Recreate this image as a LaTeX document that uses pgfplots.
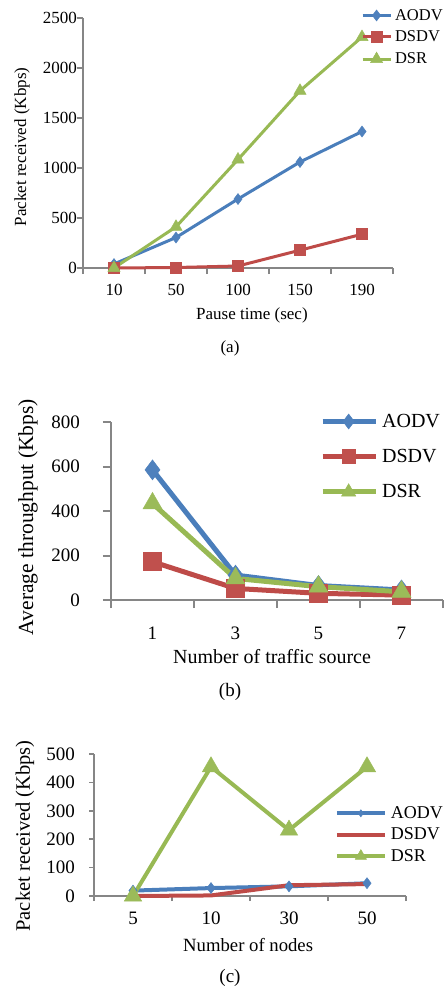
\documentclass[border=0pt]{standalone}
\usepackage{fontspec}
\setmainfont{Liberation Serif}
\usepackage{pgfplots}
\pgfplotsset{compat=1.18}

\definecolor{lnA}{HTML}{4A7EBB}
\definecolor{lnD}{HTML}{BE4B48}
\definecolor{lnS}{HTML}{98B954}
\definecolor{mkA}{HTML}{4F81BD}
\definecolor{mkD}{HTML}{C0504D}
\definecolor{mkS}{HTML}{9BBB59}
\definecolor{axgray}{HTML}{868686}

\pgfplotsset{
  excel/.style={
    scale only axis, anchor=south west, clip=false,
    axis x line*=bottom, axis y line*=left,
    axis line style={draw=axgray, line width=1.3pt},
    tick align=outside, major tick length=0pt, minor tick length=6pt,
    tick style={draw=axgray, line width=1.3pt},
    /pgf/number format/assume math mode=true,
    /pgf/number format/1000 sep={},
    scaled y ticks=false,
    xticklabel style={anchor=north, inner sep=0pt},
    yticklabel style={anchor=east, inner sep=0pt},
    xlabel style={anchor=center},
    ylabel style={anchor=center},
    legend style={draw=none, fill=none, anchor=north west,
      inner sep=0pt, outer sep=0pt,
      nodes={inner sep=0pt, outer sep=0pt}},
    legend cell align=left,
  },
}

\begin{document}
\begin{tikzpicture}[x=1pt,y=1pt]
\useasboundingbox (0,0) rectangle (444,-990);

% ---------- (a) ----------
\begin{axis}[excel,
  at={(83pt,-268pt)}, width=310pt, height=250pt,
  xmin=-0.5, xmax=4.5, ymin=0, ymax=2500,
  xtick={0,...,4}, xticklabels={10,50,100,150,190},
  minor xtick={-0.5,0.5,...,4.5},
  ytick={0,500,...,2500}, minor ytick={0,500,...,2500},
  ticklabel style={font=\fontsize{17}{17}\selectfont},
  xticklabel style={yshift=-16pt},
  yticklabel style={xshift=-6pt},
  xlabel={Pause time (sec)}, ylabel={Packet received (Kbps)},
  label style={font=\fontsize{17}{20}\selectfont},
  xlabel style={at={(axis description cs:0.545,-0.188)}},
  ylabel style={at={(axis description cs:-0.197,0.484)}},
  legend style={at={(axis description cs:0.897,1.035)},
    font=\fontsize{16.5}{20}\selectfont, row sep=9pt, column sep=3pt},
  legend image code/.code={\draw[mark repeat=2,mark phase=2]
    plot coordinates {(0pt,0pt) (14pt,0pt) (28pt,0pt)};},
]
\addplot[lnA, line width=3pt, mark=diamond*, mark size=5.5pt,
  mark options={solid, fill=mkA, draw=mkA, line width=0.5pt}]
  coordinates {(0,40) (1,305) (2,690) (3,1060) (4,1365)};
\addlegendentry{AODV}
\addplot[lnD, line width=3pt, mark=square*, mark size=5.5pt,
  mark options={solid, fill=mkD, draw=mkD, line width=0.5pt}]
  coordinates {(0,0) (1,5) (2,20) (3,178) (4,338)};
\addlegendentry{DSDV}
\addplot[lnS, line width=3pt, mark=triangle*, mark size=7pt,
  mark options={solid, fill=mkS, draw=mkS, line width=0.5pt}]
  coordinates {(0,0) (1,412) (2,1085) (3,1772) (4,2310)};
\addlegendentry{DSR}
\end{axis}
\node at (230,-348) {\fontsize{17}{20}\selectfont (a)};

% ---------- (b) ----------
\begin{axis}[excel,
  at={(111pt,-600pt)}, width=332pt, height=178pt,
  axis line style={line width=2pt}, tick style={line width=2pt},
  minor tick length=8pt,
  xmin=-0.5, xmax=3.5, ymin=0, ymax=800,
  xtick={0,...,3}, xticklabels={1,3,5,7},
  minor xtick={-0.5,0.5,...,3.5},
  ytick={0,200,...,800}, minor ytick={0,200,...,800},
  ticklabel style={font=\fontsize{19}{19}\selectfont},
  xticklabel style={yshift=-27pt},
  yticklabel style={xshift=-31pt},
  xlabel={Number of traffic source}, ylabel={Average throughput (Kbps)},
  xlabel style={font=\fontsize{20}{22}\selectfont, at={(axis description cs:0.485,-0.32)}},
  ylabel style={font=\fontsize{21.5}{24}\selectfont, at={(axis description cs:-0.25,0.466)}},
  legend style={at={(axis description cs:0.63,1.045)},
    font=\fontsize{20}{22}\selectfont, row sep=20pt, column sep=4pt},
  legend image code/.code={\draw[mark repeat=2,mark phase=2,
      every mark/.append style={scale=0.75}]
    plot coordinates {(0pt,0pt) (26pt,0pt) (53pt,0pt)};},
]
\addplot[lnA, line width=5pt, mark=diamond*, mark size=10pt,
  mark options={solid, fill=mkA, draw=mkA, line width=0.5pt}]
  coordinates {(0,585) (1,112) (2,65) (3,45)};
\addlegendentry{AODV}
\addplot[lnD, line width=5pt, mark=square*, mark size=9pt,
  mark options={solid, fill=mkD, draw=mkD, line width=0.5pt}]
  coordinates {(0,172) (1,52) (2,30) (3,22)};
\addlegendentry{DSDV}
\addplot[lnS, line width=5pt, mark=triangle*, mark size=11pt,
  mark options={solid, fill=mkS, draw=mkS, line width=0.5pt}]
  coordinates {(0,434) (1,97) (2,60) (3,37)};
\addlegendentry{DSR}
\end{axis}
\node at (230,-692) {\fontsize{19}{22}\selectfont (b)};

% ---------- (c) ----------
\begin{axis}[excel,
  at={(94pt,-896pt)}, width=312pt, height=142pt,
  axis line style={line width=1.6pt}, tick style={line width=1.6pt},
  minor tick length=5pt,
  xmin=-0.5, xmax=3.5, ymin=0, ymax=500,
  xtick={0,...,3}, xticklabels={5,10,30,50},
  minor xtick={-0.5,0.5,...,3.5},
  ytick={0,100,...,500}, minor ytick={0,100,...,500},
  ticklabel style={font=\fontsize{19}{19}\selectfont},
  xticklabel style={yshift=-16pt},
  yticklabel style={xshift=-19pt},
  xlabel={Number of nodes}, ylabel={Packet received (Kbps)},
  xlabel style={font=\fontsize{18.7}{21}\selectfont, at={(axis description cs:0.494,-0.345)}},
  ylabel style={font=\fontsize{20.5}{23}\selectfont, at={(axis description cs:-0.221,0.423)}},
  legend style={at={(axis description cs:0.772,0.63)},
    font=\fontsize{18}{21}\selectfont, row sep=8pt, column sep=4pt},
  legend image code/.code={\draw[mark repeat=2,mark phase=2,
      every mark/.append style={scale=0.65}]
    plot coordinates {(0pt,0pt) (24pt,0pt) (48pt,0pt)};},
]
\addplot[lnA, line width=4pt, mark=diamond*, mark size=5.5pt,
  mark options={solid, fill=mkA, draw=mkA, line width=0.5pt}]
  coordinates {(0,19) (1,28) (2,34) (3,45)};
\addlegendentry{AODV}
\addplot[lnD, line width=4pt, mark=none]
  coordinates {(0,0) (1,2) (2,38) (3,42)};
\addlegendentry{DSDV}
\addplot[lnS, line width=4pt, mark=triangle*, mark size=10pt,
  mark options={solid, fill=mkS, draw=mkS, line width=0.5pt}]
  coordinates {(0,0) (1,455) (2,232) (3,455)};
\addlegendentry{DSR}
\end{axis}
\node at (230,-978) {\fontsize{19}{22}\selectfont (c)};
\end{tikzpicture}
\end{document}
